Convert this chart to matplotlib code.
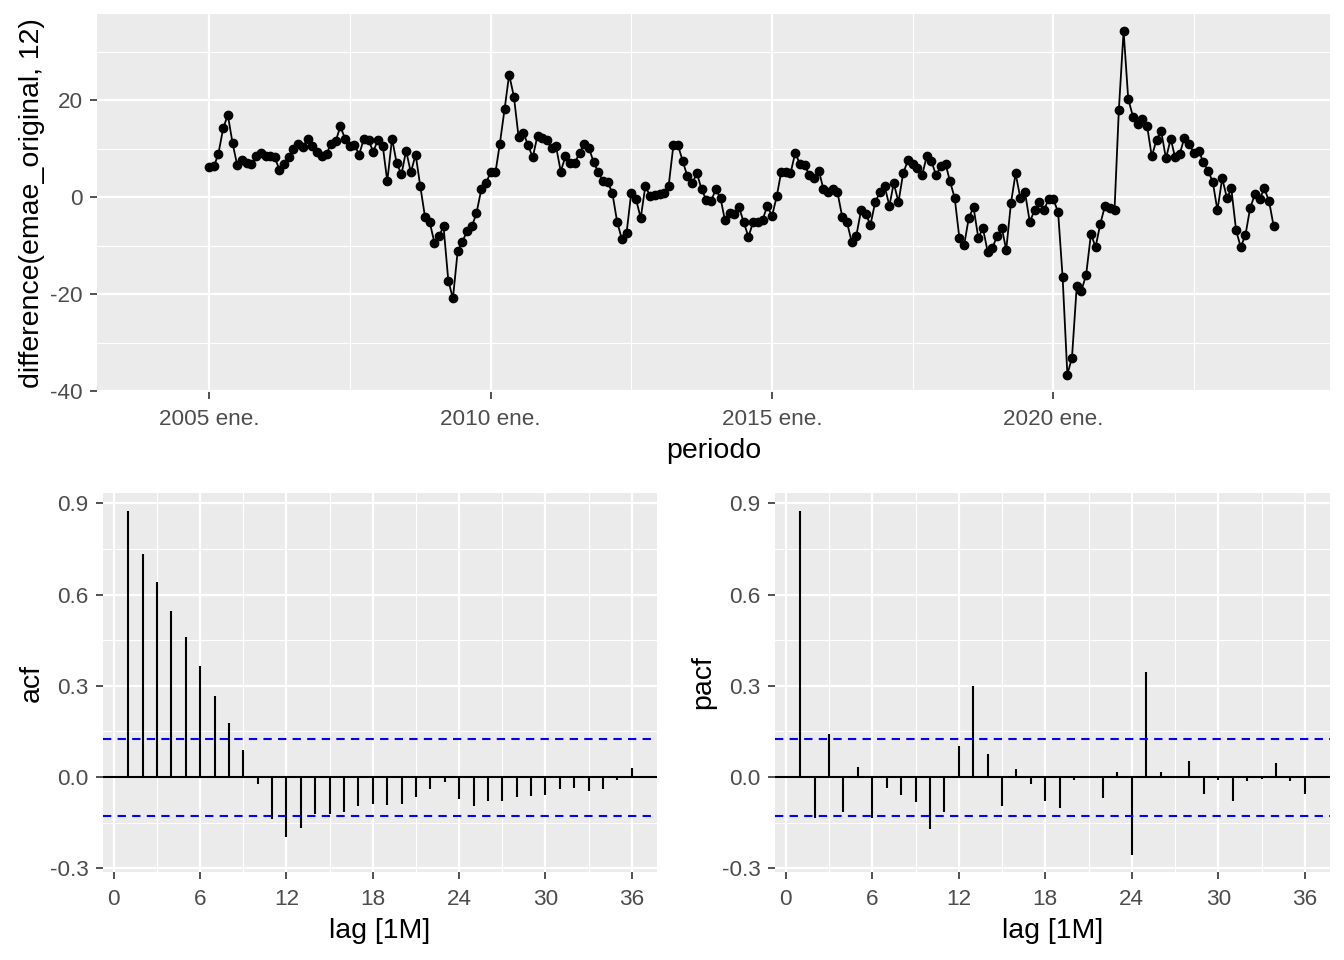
import numpy as np
import pandas as pd
import matplotlib
matplotlib.use("Agg")
import matplotlib.pyplot as plt
import matplotlib.dates as mdates
from matplotlib.ticker import MultipleLocator

plt.rcParams["font.family"] = ["Liberation Sans", "DejaVu Sans"]
plt.rcParams["axes.unicode_minus"] = False

# ---- data ----
start = "2005-01-01"
diff12 = [
    6.2, 6.4, 9.0, 14.2, 17.0, 11.1, 6.6, 7.6, 7.0, 6.8, 8.4, 9.2,
    8.4, 8.4, 8.2, 5.7, 6.8, 8.2, 9.9, 10.9, 10.3, 12.1, 10.5, 9.4,
    8.4, 9.0, 10.9, 11.5, 14.6, 12.1, 10.5, 10.7, 8.8, 12.1, 11.7, 9.4,
    11.9, 10.5, 3.3, 12.1, 7.0, 4.7, 9.6, 5.1, 8.8, 2.3, -4.1, -5.1,
    -9.4, -8.0, -6.0, -17.2, -20.9, -11.1, -9.2, -7.0, -6.0, -3.3, 1.6, 2.9,
    5.1, 5.1, 10.9, 18.1, 25.3, 20.7, 12.5, 13.3, 10.7, 8.2, 12.7, 12.3,
    11.7, 10.1, 10.5, 5.3, 8.4, 7.0, 7.0, 9.2, 10.9, 10.1, 7.2, 5.1,
    3.3, 3.1, 0.8, -5.1, -8.6, -7.4, 0.8, -0.4, -4.3, 2.3, 0.2, 0.4,
    0.6, 0.8, 2.3, 10.7, 10.7, 7.4, 4.3, 2.9, 4.9, 1.6, -0.6, -0.8,
    1.6, -0.2, -4.7, -3.3, -3.5, -2.1, -5.1, -8.2, -5.1, -5.1, -4.7, -1.8,
    -3.9, 0.2, 5.1, 5.1, 4.9, 9.2, 6.8, 6.6, 4.5, 3.9, 5.5, 1.6,
    1.0, 1.6, 1.0, -4.1, -5.1, -9.2, -8.0, -2.7, -3.5, -5.7, -1.0, 1.0,
    2.3, -1.8, 2.9, -1.0, 4.9, 7.6, 6.8, 6.0, 4.5, 8.4, 7.4, 4.5,
    6.4, 6.8, 3.3, -0.2, -8.4, -9.9, -4.3, -2.1, -8.4, -6.4, -11.3, -10.5,
    -8.0, -6.4, -10.9, -1.2, 4.9, -0.2, 1.0, -5.1, -2.7, -1.0, -2.7, -0.4,
    -0.4, -3.1, -16.4, -36.6, -33.1, -18.3, -19.3, -16.0, -7.6, -10.3, -5.5, -1.8,
    -2.3, -2.7, 17.9, 34.3, 20.3, 16.6, 15.2, 16.2, 14.6, 8.4, 11.9, 13.6,
    8.0, 12.1, 8.2, 9.0, 12.3, 10.9, 9.2, 9.6, 7.2, 5.5, 3.1, -2.7,
    3.9, -0.2, 1.8, -6.8, -10.3, -7.8, -2.3, 0.6, -0.4, 1.8, -0.8, -6.0,
]
lags = list(range(1, 37))
acf_vals = [
    0.875, 0.734, 0.642, 0.547, 0.461, 0.366, 0.267, 0.179, 0.090, -0.022,
    -0.137, -0.196, -0.166, -0.120, -0.120, -0.114, -0.094, -0.088, -0.091, -0.088,
    -0.065, -0.038, -0.015, -0.071, -0.094, -0.078, -0.078, -0.065, -0.061, -0.058,
    -0.038, -0.035, -0.045, -0.038, -0.009, 0.031,
]
pacf_vals = [
    0.875, -0.133, 0.142, -0.116, 0.034, -0.136, -0.037, -0.060, -0.083, -0.172,
    -0.116, 0.103, 0.300, 0.077, -0.096, 0.027, -0.024, -0.080, -0.100, -0.008,
    0.004, -0.070, 0.018, -0.257, 0.346, 0.018, 0.001, 0.054, -0.057, -0.011,
    -0.080, -0.014, -0.007, 0.047, -0.014, -0.057,
]
ci = 0.1265
year_ticks = ["2005-01-01", "2010-01-01", "2015-01-01", "2020-01-01"]
year_labels = ["2005 ene.", "2010 ene.", "2015 ene.", "2020 ene."]
minor_ticks = ["2007-07-01", "2012-07-01", "2017-07-01", "2022-07-01"]

dates = pd.date_range(start, periods=len(diff12), freq="MS")

TICK_FS = 16.2
TITLE_FS = 20.5
BG = "#EBEBEB"


def gg_style(ax):
    ax.set_facecolor(BG)
    for s in ax.spines.values():
        s.set_visible(False)
    ax.grid(True, which="major", color="white", linewidth=1.6)
    ax.grid(True, which="minor", color="white", linewidth=0.8)
    ax.set_axisbelow(True)
    ax.tick_params(which="major", length=4.7, width=1.2, color="#333333",
                   labelcolor="#4D4D4D", labelsize=TICK_FS, pad=5.5)
    ax.tick_params(axis="x", which="major", pad=7.5)
    ax.tick_params(which="minor", length=0)


fig = plt.figure(figsize=(13.44, 9.6), dpi=100)
W, H = 1344, 960


def add_ax(l, t, r, b):
    return fig.add_axes([l / W, 1 - b / H, (r - l) / W, (b - t) / H])


# ---- top: time series ----
ax = add_ax(97, 14, 1330, 392)
gg_style(ax)
ax.plot(dates, diff12, "-", color="black", lw=1.3, zorder=3)
ax.plot(dates, diff12, "o", color="black", ms=6.0, zorder=4)
ax.set_xticks(pd.to_datetime(year_ticks))
ax.set_xticklabels(year_labels)
ax.set_xticks(pd.to_datetime(minor_ticks), minor=True)
x0 = mdates.date2num(dates[0])
month = 30.44
ax.set_xlim(x0 - 23.95 * month, x0 + 238.95 * month)
ax.set_yticks([-40, -20, 0, 20])
ax.yaxis.set_minor_locator(MultipleLocator(10))
ax.set_ylim(-40.2, 37.8)
ax.set_xlabel("periodo", fontsize=TITLE_FS, labelpad=6)
ax.set_ylabel("difference(emae_original, 12)", fontsize=TITLE_FS, labelpad=4)


# ---- bottom: acf / pacf ----
def corr_panel(ax, vals, label):
    gg_style(ax)
    ax.axhline(0, color="black", lw=1.5, zorder=2)
    ax.vlines(lags, 0, vals, color="black", lw=1.5, zorder=3)
    for c in (ci, -ci):
        ax.axhline(c, color="blue", lw=1.5, ls=(0, (4, 3)), zorder=3)
    ax.set_xticks(range(0, 37, 6))
    ax.xaxis.set_minor_locator(MultipleLocator(3))
    ax.set_yticks([-0.3, 0.0, 0.3, 0.6, 0.9])
    ax.set_yticklabels(["-0.3", "0.0", "0.3", "0.6", "0.9"])
    ax.yaxis.set_minor_locator(MultipleLocator(0.15))
    ax.set_xlim(-0.75, 37.75)
    ax.set_ylim(-0.312, 0.934)
    ax.set_xlabel("lag [1M]", fontsize=TITLE_FS, labelpad=6)
    ax.set_ylabel(label, fontsize=TITLE_FS, labelpad=4)


corr_panel(add_ax(103, 493, 657, 872), acf_vals, "acf")
corr_panel(add_ax(775, 493, 1330, 872), pacf_vals, "pacf")

fig.savefig("out.png", dpi=100, facecolor="white")
